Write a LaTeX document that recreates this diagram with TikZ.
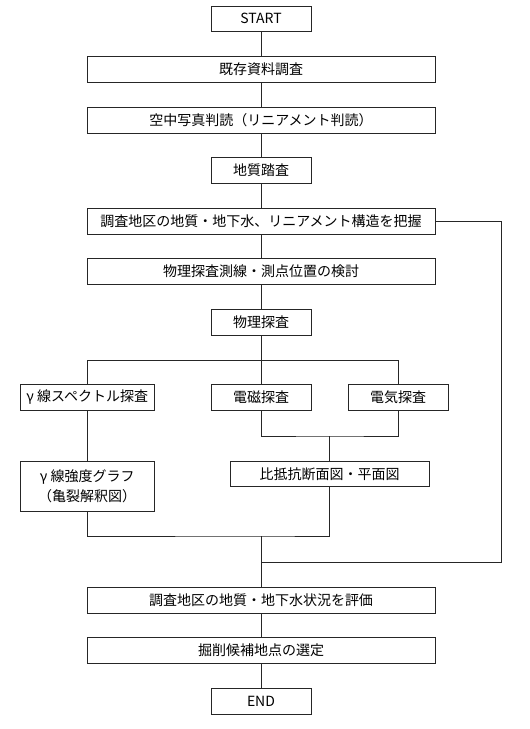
\documentclass[tikz,border=0pt]{standalone}
\usepackage{fontspec}
\newfontfamily\jpfont{Noto Sans CJK JP}
\tikzset{
    flowbox/.style={draw=black!85, line width=0.9pt, inner sep=0pt, minimum height=26, font=\jpfont\fontsize{14}{20}\selectfont, align=center},
    flowline/.style={draw=black!85, line width=0.9pt}
}
\begin{document}
\begin{tikzpicture}[x=1pt,y=-1pt]
    \useasboundingbox[fill=white] (0,0) rectangle (530,729);

    %Bokser
        \node[flowbox, minimum width=100, minimum height=25] (start) at (261,18.7) {START};
        \node[flowbox, minimum width=348] (kizon) at (261,69.3) {既存資料調査};
        \node[flowbox, minimum width=348] (kuchu) at (261,120.3) {空中写真判読（リニアメント判読）};
        \node[flowbox, minimum width=100] (tosa) at (261,170.3) {地質踏査};
        \node[flowbox, minimum width=348] (haaku) at (261,221.5) {調査地区の地質・地下水、リニアメント構造を把握};
        \node[flowbox, minimum width=348] (sokusen) at (261,271.3) {物理探査測線・測点位置の検討};
        \node[flowbox, minimum width=100] (butsuri) at (261,322.3) {物理探査};
        \node[flowbox, minimum width=134] (gamma) at (87.2,397.3) {γ 線スペクトル探査};
        \node[flowbox, minimum width=100] (denji) at (261,397.3) {電磁探査};
        \node[flowbox, minimum width=100] (denki) at (398,397.3) {電気探査};
        \node[flowbox, minimum width=134, minimum height=50] (graph) at (87.2,486.3) {γ 線強度グラフ\\（亀裂解釈図）};
        \node[flowbox, minimum width=199, minimum height=25] (hiteiko) at (329.7,473.8) {比抵抗断面図・平面図};
        \node[flowbox, minimum width=348] (hyoka) at (261,600.3) {調査地区の地質・地下水状況を評価};
        \node[flowbox, minimum width=348] (kussaku) at (261,650.3) {掘削候補地点の選定};
        \node[flowbox, minimum width=100] (end) at (261,701.3) {END};

    %Punkter
        \coordinate (split) at (261,360.3);
        \coordinate (join) at (329.7,436);
        \coordinate (merge) at (261,536);
        \coordinate (back) at (501.3,562.3);
        \coordinate (backin) at (261,562.3);

    %Linjer
        \draw[flowline] (start) -- (kizon);
        \draw[flowline] (kizon) -- (kuchu);
        \draw[flowline] (kuchu) -- (tosa);
        \draw[flowline] (tosa) -- (haaku);
        \draw[flowline] (haaku) -- (sokusen);
        \draw[flowline] (sokusen) -- (butsuri);
        \draw[flowline] (butsuri) -- (denji);
        \draw[flowline] (gamma.north) |- (split) -| (denki.north);
        \draw[flowline] (denji.south) |- (join) -| (denki.south);
        \draw[flowline] (join) -- (hiteiko);
        \draw[flowline] (gamma) -- (graph);
        \draw[flowline] (graph.south) |- (merge) -| (hiteiko.south);
        \draw[flowline] (merge) -- (hyoka);
        \draw[flowline] (haaku.east) -| (back) -- (backin);
        \draw[flowline] (hyoka) -- (kussaku);
        \draw[flowline] (kussaku) -- (end);

\end{tikzpicture}
\end{document}
